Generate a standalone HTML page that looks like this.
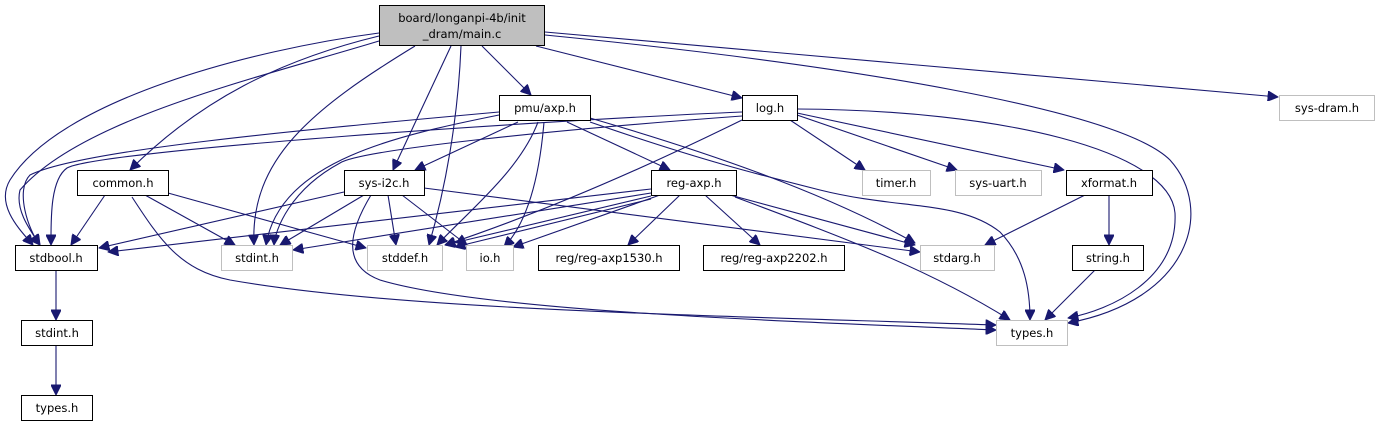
<!DOCTYPE html>
<html><head><meta charset="utf-8"><style>
html,body{margin:0;padding:0;background:#fff;}
svg{display:block;}
text{font-family:"DejaVu Sans","Liberation Sans",sans-serif;font-size:11.5px;fill:#000;}
.e{fill:none;stroke:#191970;stroke-width:1.1;}
</style></head><body>
<svg width="1379" height="425" viewBox="0 0 1379 425" xmlns="http://www.w3.org/2000/svg">
<defs><marker id="a" viewBox="0 0 10 10" refX="10" refY="5" markerWidth="11" markerHeight="10" markerUnits="userSpaceOnUse" orient="auto"><path d="M0,0 L10,5 L0,10 z" fill="#191970" stroke="#191970"/></marker></defs>
<g class="e" marker-end="url(#a)">
<path d="M379,33 C250,50 60,100 10,180 C-5,205 20,230 33,245"/>
<path d="M379,41 C250,80 80,120 20,190 C15,210 30,230 40,245"/>
<path d="M379,36 C280,60 200,100 130,170"/>
<path d="M415,46 C310,110 250,160 254,245"/>
<path d="M451,46 L393,170"/>
<path d="M461,46 C458,120 445,190 429,245"/>
<path d="M482,46 L531,95"/>
<path d="M536,46 L742,98"/>
<path d="M545,32 L1278,97"/>
<path d="M545,35 C850,65 1120,110 1170,160 C1215,210 1190,300 1068,323"/>
<path d="M499,112 C300,130 80,150 30,175 C15,190 28,230 40,245"/>
<path d="M499,115 C400,135 280,160 266,245"/>
<path d="M518,122 L415,170"/>
<path d="M538,122 C520,170 470,210 437,245"/>
<path d="M544,122 C540,170 530,220 504,247"/>
<path d="M567,122 L670,170"/>
<path d="M590,118 C700,150 820,190 915,243"/>
<path d="M590,122 C700,160 760,175 820,190 C900,210 960,200 1000,232 C1025,258 1030,290 1030,320"/>
<path d="M742,112 C550,120 100,150 67,168 C50,180 51,220 51,245"/>
<path d="M742,116 C550,130 360,150 340,163 C290,190 275,230 274,245"/>
<path d="M742,120 C620,180 520,220 445,245"/>
<path d="M790,120 L865,170"/>
<path d="M797,115 L957,170"/>
<path d="M797,113 L1064,170"/>
<path d="M797,109 C1000,110 1170,150 1175,213 C1178,280 1110,310 1068,318"/>
<path d="M105,195 L71,245"/>
<path d="M145,195 L235,245"/>
<path d="M168,193 L366,248"/>
<path d="M132,197 C160,240 180,270 230,280 C400,310 700,315 996,325"/>
<path d="M344,192 L99,248"/>
<path d="M364,195 L280,245"/>
<path d="M388,195 L396,245"/>
<path d="M402,195 L467,245"/>
<path d="M371,195 C350,230 340,265 380,280 C480,310 750,320 996,330"/>
<path d="M424,188 L920,252"/>
<path d="M651,189 L108,252"/>
<path d="M651,193 L293,250"/>
<path d="M651,196 L445,245"/>
<path d="M651,199 L455,247"/>
<path d="M660,195 L513,247"/>
<path d="M680,195 L628,245"/>
<path d="M705,195 L760,245"/>
<path d="M730,195 L915,245"/>
<path d="M735,197 C850,240 930,270 1010,320"/>
<path d="M1085,195 L985,245"/>
<path d="M1109,195 L1109,245"/>
<path d="M1095,270 L1045,320"/>
<path d="M56,270 L56,320"/>
<path d="M56,345 L56,395"/>
</g>
<g stroke-width="1">
<rect x="379.5" y="5.5" width="165" height="40" fill="#bfbfbf" stroke="#000"/>
<rect x="499.5" y="95.5" width="91" height="25" fill="#fff" stroke="#000"/>
<rect x="742.5" y="95.5" width="55" height="25" fill="#fff" stroke="#000"/>
<rect x="1279.5" y="95.5" width="95" height="25" fill="#fff" stroke="#bfbfbf"/>
<rect x="77.5" y="170.5" width="91" height="25" fill="#fff" stroke="#000"/>
<rect x="344.5" y="170.5" width="80" height="25" fill="#fff" stroke="#000"/>
<rect x="651.5" y="170.5" width="85" height="25" fill="#fff" stroke="#000"/>
<rect x="862.5" y="170.5" width="68" height="25" fill="#fff" stroke="#bfbfbf"/>
<rect x="955.5" y="170.5" width="86" height="25" fill="#fff" stroke="#bfbfbf"/>
<rect x="1066.5" y="170.5" width="86" height="25" fill="#fff" stroke="#000"/>
<rect x="15.5" y="245.5" width="82" height="25" fill="#fff" stroke="#000"/>
<rect x="221.5" y="245.5" width="71" height="25" fill="#fff" stroke="#bfbfbf"/>
<rect x="367.5" y="245.5" width="75" height="25" fill="#fff" stroke="#bfbfbf"/>
<rect x="466.5" y="245.5" width="47" height="25" fill="#fff" stroke="#bfbfbf"/>
<rect x="538.5" y="245.5" width="141" height="25" fill="#fff" stroke="#000"/>
<rect x="703.5" y="245.5" width="141" height="25" fill="#fff" stroke="#000"/>
<rect x="920.5" y="245.5" width="74" height="25" fill="#fff" stroke="#bfbfbf"/>
<rect x="1072.5" y="245.5" width="71" height="25" fill="#fff" stroke="#000"/>
<rect x="21.5" y="320.5" width="71" height="25" fill="#fff" stroke="#000"/>
<rect x="996.5" y="320.5" width="71" height="25" fill="#fff" stroke="#bfbfbf"/>
<rect x="21.5" y="395.5" width="71" height="25" fill="#fff" stroke="#000"/>
</g>
<g text-anchor="middle">
<text x="462" y="22">board/longanpi-4b/init</text>
<text x="462" y="38">_dram/main.c</text>
<text x="545" y="112">pmu/axp.h</text>
<text x="770" y="112">log.h</text>
<text x="1327" y="112">sys-dram.h</text>
<text x="123" y="187">common.h</text>
<text x="384" y="187">sys-i2c.h</text>
<text x="694" y="187">reg-axp.h</text>
<text x="896" y="187">timer.h</text>
<text x="998" y="187">sys-uart.h</text>
<text x="1109" y="187">xformat.h</text>
<text x="56" y="262">stdbool.h</text>
<text x="257" y="262">stdint.h</text>
<text x="405" y="262">stddef.h</text>
<text x="490" y="262">io.h</text>
<text x="609" y="262">reg/reg-axp1530.h</text>
<text x="774" y="262">reg/reg-axp2202.h</text>
<text x="957" y="262">stdarg.h</text>
<text x="1108" y="262">string.h</text>
<text x="57" y="337">stdint.h</text>
<text x="1032" y="337">types.h</text>
<text x="57" y="412">types.h</text>
</g>
</svg>
</body></html>
